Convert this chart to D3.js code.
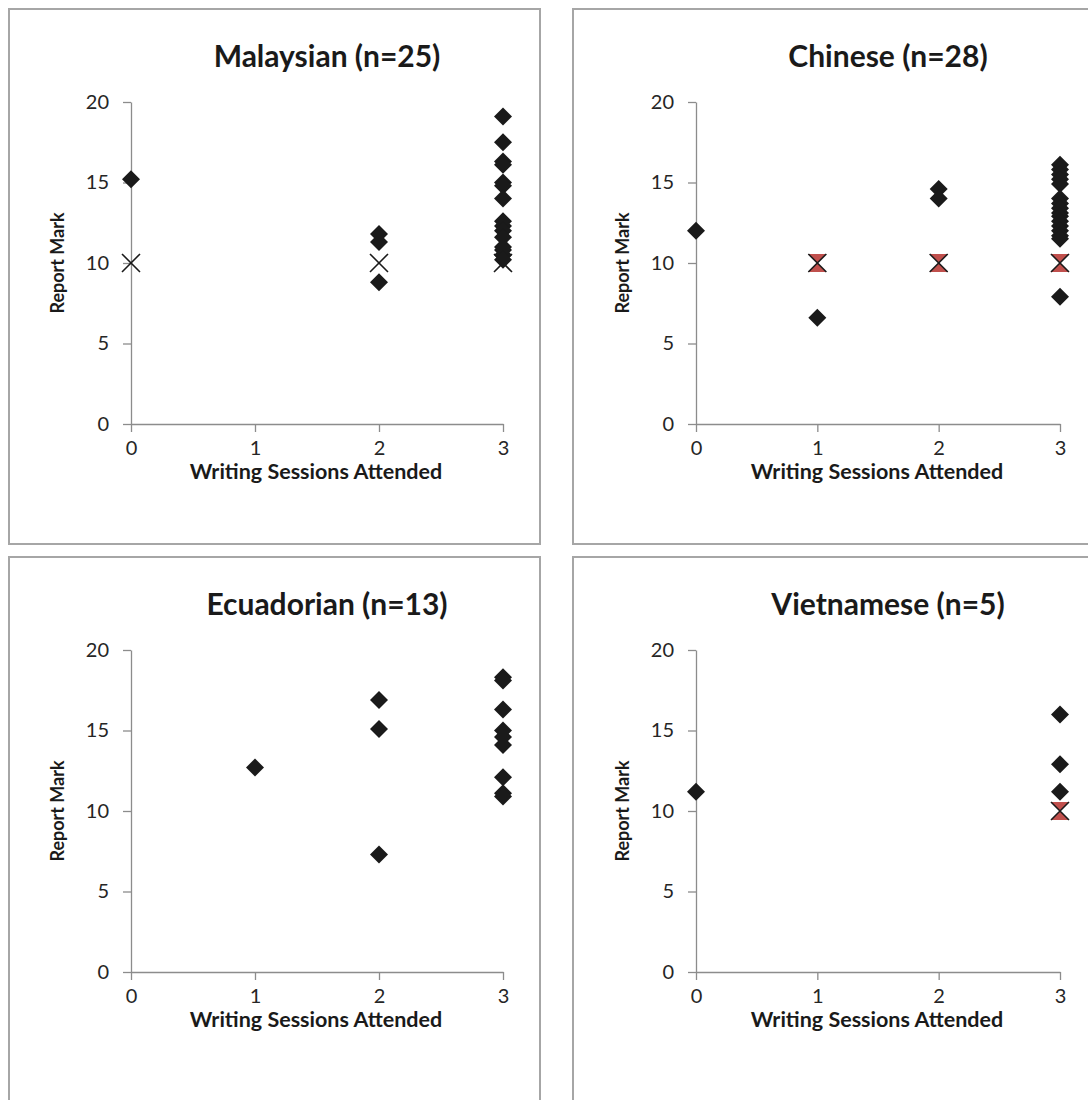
<!DOCTYPE html>
<html>
<head>
<meta charset="utf-8">
<script src="https://cdn.jsdelivr.net/npm/d3@7"></script>
<style>
  html, body { margin: 0; padding: 0; background: #fff; }
  svg { display: block; }
</style>
</head>
<body>
<svg id="chart" width="1088" height="1100"></svg>
<script>
// ---------------- DATA ----------------
const panelTitles = ["Malaysian (n=25)", "Chinese (n=28)", "Ecuadorian (n=13)", "Vietnamese (n=5)"];
const xTickValues = [0, 1, 2, 3];
const yTickValues = [0, 5, 10, 15, 20];
const xAxisTitle = "Writing Sessions Attended";
const yAxisTitle = "Report Mark";

// Diamond series: [sessions attended, report mark]
const malaysianMarks = [
  [0, 15.2],
  [2, 11.8], [2, 11.3], [2, 8.8],
  [3, 19.1], [3, 17.5], [3, 16.3], [3, 16.1], [3, 15.0], [3, 14.8], [3, 14.0],
  [3, 12.6], [3, 12.3], [3, 12.0], [3, 11.6], [3, 11.0], [3, 10.8], [3, 10.5], [3, 10.2]
];
const chineseMarks = [
  [0, 12.0],
  [1, 6.6],
  [2, 14.6], [2, 14.0],
  [3, 16.1], [3, 15.8], [3, 15.5], [3, 15.2], [3, 14.9], [3, 14.0], [3, 13.7],
  [3, 13.4], [3, 13.1], [3, 12.9], [3, 12.6], [3, 12.3], [3, 12.0], [3, 11.7],
  [3, 11.5], [3, 7.9]
];
const ecuadorianMarks = [
  [1, 12.7],
  [2, 16.9], [2, 15.1], [2, 7.3],
  [3, 18.3], [3, 18.1], [3, 16.3], [3, 15.0], [3, 14.6], [3, 14.1], [3, 12.1], [3, 11.1], [3, 10.9]
];
const vietnameseMarks = [
  [0, 11.2],
  [3, 16.0], [3, 12.9], [3, 11.2]
];

// Cross series (second marker type)
const malaysianCrosses = [[0, 10], [2, 10], [3, 10]];
const chineseCrosses = [[1, 10], [2, 10], [3, 10]];
const ecuadorianCrosses = [];
const vietnameseCrosses = [[3, 10]];

const panelMarks = [malaysianMarks, chineseMarks, ecuadorianMarks, vietnameseMarks];
const panelCrosses = [malaysianCrosses, chineseCrosses, ecuadorianCrosses, vietnameseCrosses];
const panelCrossFilled = [false, true, false, true];

// ---------------- LAYOUT ----------------
const FONT = "Lato, 'Open Sans', sans-serif";
const panelFrames = [
  { left: 9,   top: 9,   right: 540,  bottom: 544,  x0: 131, x1: 503,  yTop: 102, yBot: 424 },
  { left: 573, top: 9,   right: 1092, bottom: 544,  x0: 696, x1: 1060, yTop: 102, yBot: 424 },
  { left: 9,   top: 557, right: 540,  bottom: 1104, x0: 131, x1: 503,  yTop: 650, yBot: 972 },
  { left: 573, top: 557, right: 1092, bottom: 1104, x0: 696, x1: 1060, yTop: 650, yBot: 972 }
];

const svg = d3.select("#chart");

panelFrames.forEach((f, i) => {
  const g = svg.append("g");

  // panel border
  g.append("rect")
    .attr("x", f.left).attr("y", f.top)
    .attr("width", f.right - f.left).attr("height", f.bottom - f.top)
    .attr("fill", "#fff").attr("stroke", "#a6a6a6").attr("stroke-width", 2);

  const x = d3.scaleLinear().domain([0, 3]).range([f.x0, f.x1]);
  const y = d3.scaleLinear().domain([0, 20]).range([f.yBot, f.yTop]);

  // x axis
  const xAxis = d3.axisBottom(x).tickValues(xTickValues).tickFormat(d3.format("d"))
    .tickSizeInner(8).tickSizeOuter(0).tickPadding(9);
  const gx = g.append("g").attr("transform", `translate(0,${f.yBot})`).call(xAxis);
  gx.select(".domain").attr("stroke", "#8c8c8c").attr("stroke-width", 1.3);
  gx.selectAll(".tick line").attr("stroke", "#8c8c8c").attr("stroke-width", 1.3);
  gx.selectAll(".tick text").attr("font-family", FONT).attr("font-size", 20).attr("fill", "#262626");

  // y axis
  const yAxis = d3.axisLeft(y).tickValues(yTickValues).tickFormat(d3.format("d"))
    .tickSizeInner(8).tickSizeOuter(0).tickPadding(14);
  const gy = g.append("g").attr("transform", `translate(${f.x0},0)`).call(yAxis);
  gy.select(".domain").attr("stroke", "#8c8c8c").attr("stroke-width", 1.3);
  gy.selectAll(".tick line").attr("stroke", "#8c8c8c").attr("stroke-width", 1.3);
  gy.selectAll(".tick text").attr("font-family", FONT).attr("font-size", 20).attr("fill", "#262626");

  // title
  g.append("text")
    .attr("x", (f.x0 + f.x1) / 2 + 10).attr("y", f.top + 58)
    .attr("text-anchor", "middle")
    .attr("font-family", FONT).attr("font-weight", "bold").attr("font-size", 30)
    .attr("fill", "#1a1a1a")
    .text(panelTitles[i]);

  // x axis title
  g.append("text")
    .attr("x", (f.x0 + f.x1) / 2 - 1).attr("y", f.yBot + 55)
    .attr("text-anchor", "middle")
    .attr("font-family", FONT).attr("font-weight", "bold").attr("font-size", 21.5)
    .attr("fill", "#1a1a1a")
    .text(xAxisTitle);

  // y axis title
  const ytx = f.x0 - 67, yty = (f.yTop + f.yBot) / 2;
  g.append("text")
    .attr("transform", `translate(${ytx},${yty}) rotate(-90)`)
    .attr("text-anchor", "middle")
    .attr("font-family", FONT).attr("font-weight", "bold").attr("font-size", 18)
    .attr("fill", "#1a1a1a")
    .text(yAxisTitle);

  // crosses
  const cs = 9;
  const crossG = g.append("g");
  panelCrosses[i].forEach(d => {
    const cx = x(d[0]), cy = y(d[1]);
    if (panelCrossFilled[i]) {
      crossG.append("path")
        .attr("d", `M${cx - cs},${cy - cs}L${cx + cs},${cy - cs}L${cx},${cy}Z M${cx - cs},${cy + cs}L${cx + cs},${cy + cs}L${cx},${cy}Z`)
        .attr("fill", "#c0504d");
    }
    crossG.append("path")
      .attr("d", `M${cx - cs},${cy - cs}L${cx + cs},${cy + cs}M${cx + cs},${cy - cs}L${cx - cs},${cy + cs}`)
      .attr("stroke", "#1a1a1a").attr("stroke-width", 1.6).attr("fill", "none");
  });

  // diamonds
  const ds = 9;
  g.append("g").selectAll("path")
    .data(panelMarks[i])
    .join("path")
    .attr("d", d => {
      const cx = x(d[0]), cy = y(d[1]);
      return `M${cx},${cy - ds}L${cx + ds},${cy}L${cx},${cy + ds}L${cx - ds},${cy}Z`;
    })
    .attr("fill", "#1a1a1a");
});
</script>
</body>
</html>
